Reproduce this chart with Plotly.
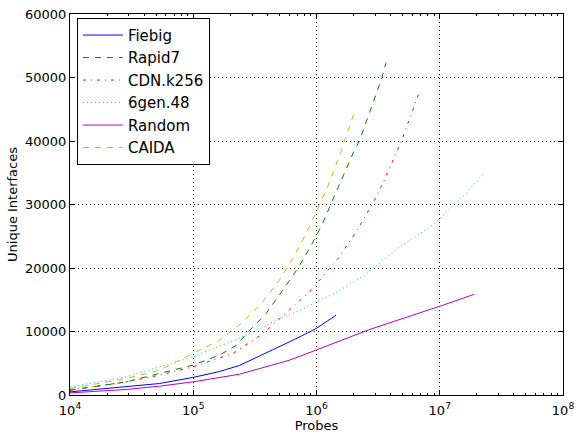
import plotly.graph_objects as go

# ---- data ----
fiebig_x = [1e4, 2.86e4, 5.32e4, 9.9e4, 1.6e5, 2.37e5, 3.44e5, 6.62e5, 9.93e5, 1.44e6]
fiebig_y = [490, 1280, 1810, 2760, 3650, 4650, 6100, 8740, 10470, 12570]

rapid7_x = [1e4, 2.86e4, 5.32e4, 9.9e4, 1.63e5, 2.23e5, 2.72e5, 3.9e5, 5.32e5, 7.04e5,
            8.92e5, 1.12e6, 1.35e6, 1.51e6, 2.03e6, 2.23e6, 3.4e6, 3.66e6]
rapid7_y = [760, 2060, 3390, 4690, 6270, 7800, 9700, 12830, 16500, 19920,
            23320, 27000, 30680, 32770, 38550, 40000, 50000, 52300]

cdn_x = [1e4, 2.86e4, 5.32e4, 9.9e4, 2.09e5, 3.67e5, 4.7e5, 6.41e5, 8.75e5, 1.09e6,
         1.53e6, 2.09e6, 2.86e6, 3.45e6, 4.15e6, 4.89e6, 6.84e6]
cdn_y = [760, 2060, 3120, 4420, 6530, 9680, 11510, 13870, 16240, 18340,
         21750, 25690, 30150, 33310, 36710, 40000, 47730]

gen_x = [1e4, 2.86e4, 5.32e4, 9.9e4, 2.23e5, 3.24e5, 5.0e5, 7.26e5, 9.93e5, 1.4e6,
         2.52e6, 4.7e6, 8.75e6, 1.63e7, 2.23e7]
gen_y = [1280, 2850, 4420, 6000, 8740, 10200, 12050, 13250, 14660, 15980,
         19000, 23320, 26740, 31730, 34770]

random_x = [1e4, 2.86e4, 5.32e4, 9.9e4, 2.37e5, 6.03e5, 1e6, 1.63e6, 2.69e6, 1.06e7, 1.91e7]
random_y = [330, 870, 1390, 2060, 3270, 5480, 7100, 8740, 10310, 14140, 15870]

caida_x = [1e4, 2.86e4, 5.32e4, 9.9e4, 1.63e5, 2.09e5, 2.52e5, 3.56e5, 5.0e5, 6.41e5,
           8.24e5, 1.01e6, 1.22e6, 1.58e6, 2.0e6]
caida_y = [1020, 2600, 3900, 6530, 8630, 10200, 11510, 14400, 18080, 21490,
           25430, 29100, 32600, 38300, 44220]

x_tickvals = [1e4, 1e5, 1e6, 1e7, 1e8]
x_ticktext = ["10<sup>4</sup>", "10<sup>5</sup>", "10<sup>6</sup>", "10<sup>7</sup>", "10<sup>8</sup>"]
x_minor = [m * 10 ** e for e in range(4, 8) for m in range(2, 10)]
y_tickvals = [0, 10000, 20000, 30000, 40000, 50000, 60000]

series = [
    ("Fiebig", fiebig_x, fiebig_y, "#0000ff", "solid"),
    ("Rapid7", rapid7_x, rapid7_y, "#008000", "6px,6px"),
    ("CDN.k256", cdn_x, cdn_y, "#ff0000", "3px,5px,1px,5px"),
    ("6gen.48", gen_x, gen_y, "#00bfbf", "1px,3px"),
    ("Random", random_x, random_y, "#bf00bf", "solid"),
    ("CAIDA", caida_x, caida_y, "#bfbf00", "6px,6px"),
]

fig = go.Figure()
for name, xs, ys, col, dash in series:
    fig.add_trace(go.Scatter(
        x=xs, y=ys, mode="lines", name=name, legendgroup=name,
        line=dict(color=col, width=1, dash=dash),
    ))

font = dict(family="DejaVu Sans", size=13, color="black")

fig.update_layout(
    width=576, height=433,
    margin=dict(l=70, r=13, t=14, b=38, autoexpand=False),
    paper_bgcolor="white", plot_bgcolor="white",
    font=font,
    showlegend=True,
    legend=dict(
        x=0.014, y=0.99, xanchor="left", yanchor="top",
        bgcolor="white", bordercolor="black", borderwidth=1,
        font=dict(family="DejaVu Sans", size=15, color="black"),
        tracegroupgap=0, itemwidth=40,
    ),
    xaxis=dict(
        type="log", range=[4, 8],
        tickmode="array", tickvals=x_tickvals, ticktext=x_ticktext,
        ticks="inside", ticklen=5, tickwidth=1, tickcolor="black",
        ticklabelstandoff=3,
        showline=True, linecolor="black", linewidth=1, mirror="allticks",
        showgrid=True, gridcolor="black", gridwidth=1, griddash="1px,3px",
        zeroline=False,
        minor=dict(tickmode="array", tickvals=x_minor, ticks="inside", ticklen=2,
                   tickwidth=1, tickcolor="black", showgrid=False),
        title=dict(text="Probes", standoff=4, font=font),
        tickfont=font,
        automargin=False,
    ),
    yaxis=dict(
        range=[0, 60000],
        tickmode="array", tickvals=y_tickvals, ticktext=[str(v) for v in y_tickvals],
        ticks="inside", ticklen=5, tickwidth=1, tickcolor="black",
        showline=True, linecolor="black", linewidth=1, mirror="allticks",
        showgrid=True, gridcolor="black", gridwidth=1, griddash="1px,3px",
        zeroline=False,
        title=dict(text="Unique Interfaces", standoff=4, font=font),
        tickfont=font,
        automargin=False,
    ),
)

fig.write_html("out.html")
